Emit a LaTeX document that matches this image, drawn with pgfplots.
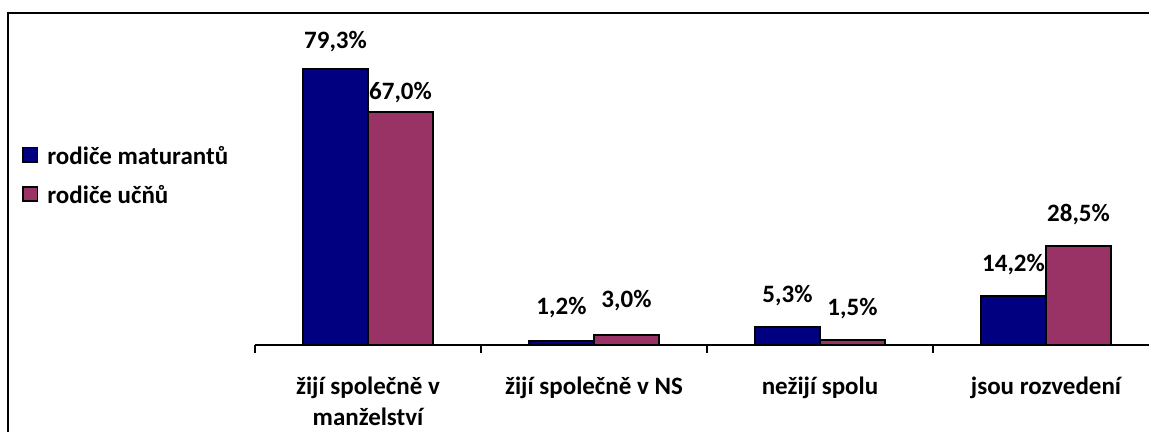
\documentclass[border=0pt]{standalone}
\usepackage{fontspec}
\setmainfont{Carlito}
\usepackage{pgfplots}
\pgfplotsset{compat=1.18}
\usepackage{pgfplotstable}
\definecolor{matblue}{RGB}{0,0,128}
\definecolor{ucnpurple}{RGB}{153,51,102}

% x = category index, y = share in %, dy = label gap above bar (pt)
\pgfplotstableread{
x y dy
0 79.3 10.5
1 1.2 13
2 5.3 12
3 14.2 12
}\maturanti
\pgfplotstableread{
x y dy
0 67.0 6
1 3.0 13.5
2 1.5 12
3 28.5 12
}\ucni

\begin{document}
\begin{tikzpicture}
\useasboundingbox (-127.5pt,-43.5pt) rectangle (447pt,172.5pt);
\begin{axis}[
  at={(0,0)}, anchor=south west,
  scale only axis,
  width=447pt, height=156.6pt,
  ybar=0pt, bar width=32.5pt,
  xmin=-0.5, xmax=3.4558,
  ymin=0, ymax=90,
  clip=false,
  axis x line*=bottom,
  axis y line=none,
  axis line style={line width=1pt, black},
  xtick={0,1,2,3},
  xticklabels={{žijí společně v\\manželství},{žijí společně v NS},{nežijí spolu},{jsou rozvedení}},
  major x tick style={draw=none},
  minor xtick={-0.5,0.5,1.5,2.5},
  minor tick length=4pt,
  tick align=outside,
  minor x tick style={line width=1pt, black},
  xticklabel style={font=\fontsize{12.5}{15.5}\selectfont\bfseries, align=center, anchor=north, inner sep=0pt, yshift=-11.5pt},
  ytick=\empty,
  nodes near coords={\pgfmathprintnumber[fixed,fixed zerofill,precision=1,use comma,assume math mode=true]{\pgfplotspointmeta}\%},
  visualization depends on={\thisrow{dy}\as\dy},
  every node near coord/.append style={font=\fontsize{12.5}{15}\selectfont\bfseries, anchor=base, inner sep=0pt, yshift=\dy pt},
  legend style={at={(axis description cs:-0.2606,0.642)}, anchor=north west, draw=none, fill=none,
    font=\fontsize{12.5}{15}\selectfont\bfseries, row sep=7pt, column sep=3.5pt, inner sep=0pt,
    nodes={inner sep=1pt}},
  legend cell align=left,
  legend image code/.code={\draw[#1, line width=0.8pt] (0pt,-2.6pt) rectangle (7.2pt,4.6pt);},
]
\addplot[fill=matblue, draw=black, line width=1pt] table[x=x,y=y] {\maturanti};
\addplot[fill=ucnpurple, draw=black, line width=1pt] table[x=x,y=y] {\ucni};
\legend{rodiče maturantů, rodiče učňů}
\end{axis}
\draw[line width=1pt] (-123.5pt,-50pt) -- (-123.5pt,166pt) -- (460pt,166pt);
\end{tikzpicture}
\end{document}
